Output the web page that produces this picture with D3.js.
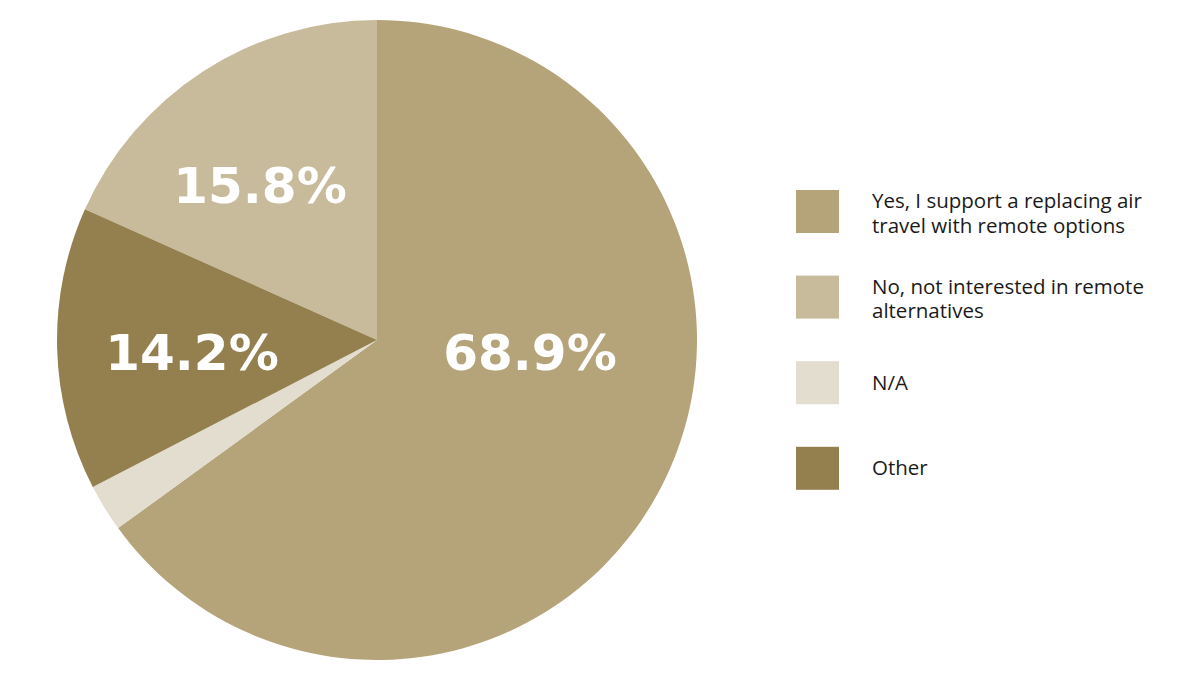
<!DOCTYPE html>
<html>
<head>
<meta charset="utf-8">
<script src="https://cdn.jsdelivr.net/npm/d3@7"></script>
<style>
  html, body { margin: 0; padding: 0; background: #ffffff; }
  svg { display: block; }
</style>
</head>
<body>
<svg id="chart" width="1200" height="680"></svg>
<script>
// Categories in legend order
const categories = [
  "Yes, I support a replacing air travel with remote options",
  "No, not interested in remote alternatives",
  "N/A",
  "Other"
];
// Legend text lines as shown
const legendLines = [
  ["Yes, I support a replacing air", "travel with remote options"],
  ["No, not interested in remote", "alternatives"],
  ["N/A"],
  ["Other"]
];
// Slice shares as drawn in the picture (percent)
const sliceValues = [65.0, 18.3, 2.4, 14.3];
// Percentage labels printed on the slices ("" = no label)
const sliceLabels = ["68.9%", "15.8%", "", "14.2%"];
const colors = ["#b5a479", "#c8bb9b", "#e3ddcf", "#94804f"];
// Drawing order of slices clockwise from 12 o'clock
const pieOrder = [0, 2, 3, 1];

const svg = d3.select("#chart");
const cx = 377, cy = 340, radius = 320;

const data = categories.map((c, i) => ({
  name: c, value: sliceValues[i], label: sliceLabels[i], color: colors[i], idx: i
}));

const pie = d3.pie()
  .value(d => d.value)
  .sort((a, b) => pieOrder.indexOf(a.idx) - pieOrder.indexOf(b.idx));

const arc = d3.arc().innerRadius(0).outerRadius(radius);

const g = svg.append("g").attr("transform", `translate(${cx},${cy})`);

const arcs = pie(data);
g.selectAll("path.slice")
  .data(arcs)
  .join("path")
  .attr("class", "slice")
  .attr("d", arc)
  .attr("fill", d => d.data.color);

// Label anchor offsets (relative to pie centre), per category index
const labelOffsets = {
  0: [153, 30],
  1: [-117, -137],
  3: [-185, 30]
};
g.selectAll("text.pct")
  .data(arcs.filter(d => d.data.label))
  .join("text")
  .attr("class", "pct")
  .attr("x", d => labelOffsets[d.data.idx][0])
  .attr("y", d => labelOffsets[d.data.idx][1])
  .attr("text-anchor", "middle")
  .attr("font-family", "'DejaVu Sans', sans-serif")
  .attr("font-weight", "bold")
  .attr("font-size", 50)
  .attr("fill", "#ffffff")
  .text(d => d.data.label);

// Legend
const legendX = 796, legendY0 = 190, legendStep = 85.6, sq = 43;
const legend = svg.append("g");
const items = legend.selectAll("g.item")
  .data(data)
  .join("g")
  .attr("class", "item")
  .attr("transform", (d, i) => `translate(${legendX},${legendY0 + i * legendStep})`);

items.append("rect")
  .attr("width", sq)
  .attr("height", sq)
  .attr("fill", d => d.color);

items.append("text")
  .attr("font-family", "'Open Sans', sans-serif")
  .attr("font-size", 20.5)
  .attr("fill", "#1a1a1a")
  .each(function (d, i) {
    const lines = legendLines[i];
    const base = sq / 2 + 7 - (lines.length - 1) * 10.4;
    d3.select(this).selectAll("tspan")
      .data(lines)
      .join("tspan")
      .attr("x", 76)
      .attr("y", (l, j) => base + j * 24.4)
      .text(l => l);
  });
</script>
</body>
</html>
